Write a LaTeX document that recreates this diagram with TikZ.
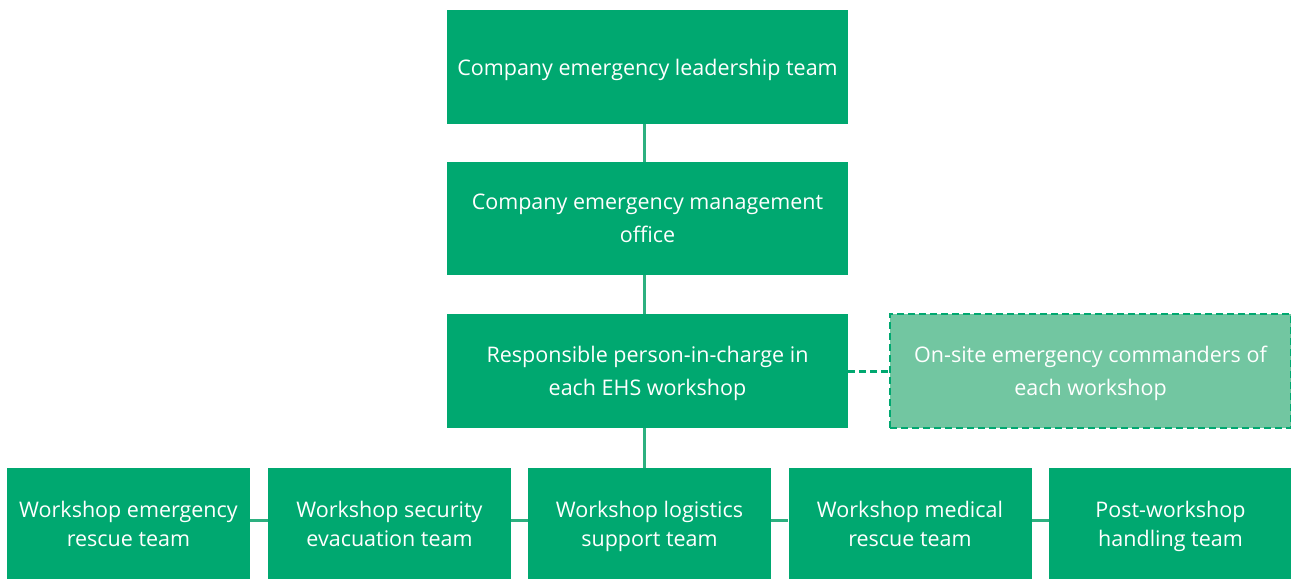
\documentclass[tikz,border=0pt]{standalone}
\usepackage{fontspec}
\setmainfont{Open Sans}
\definecolor{teamgreen}{RGB}{0,168,112}
\definecolor{linegreen}{RGB}{45,176,128}
\definecolor{palegreen}{RGB}{114,198,161}
\begin{document}
\begin{tikzpicture}[x=1pt,y=-1pt,
        unitbox/.style={fill=teamgreen, text=white, inner sep=0pt, align=center,
            font=\fontsize{21.5}{33}\selectfont, text depth=-0.5pt},
        topbox/.style={unitbox, minimum width=401pt, minimum height=114pt},
        teambox/.style={unitbox, minimum width=243pt, minimum height=111pt,
            font=\fontsize{21.5}{29}\selectfont, text depth=-5pt},
        sidebox/.style={topbox, fill=palegreen, draw=teamgreen, line width=2.2pt,
            dash pattern={on 7pt off 4pt}},
        link/.style={draw=linegreen, line width=2.5pt},
        dashlink/.style={link, draw=teamgreen, line width=3pt, dash pattern={on 7pt off 4pt}}]
        \useasboundingbox (0,0) rectangle (1291,579);

        %Top chain
        \node[topbox] (lead) at (647.5,67) {Company emergency leadership team};
        \node[topbox, minimum height=113pt] (office) at (647.5,218.5) {Company emergency management\\office};
        \node[topbox] (charge) at (647.5,371) {Responsible person-in-charge in\\each EHS workshop};
        %Side box
        \node[sidebox] (cmdr) at (1090.5,371) {On-site emergency commanders of\\each workshop};

        %Teams row
        \node[teambox] (rescue) at (128.5,523.5) {Workshop emergency\\rescue team};
        \node[teambox] (security) at (389.5,523.5) {Workshop security\\evacuation team};
        \node[teambox] (logistics) at (649.5,523.5) {Workshop logistics\\support team};
        \node[teambox] (medical) at (910,523.5) {Workshop medical\\rescue team};
        \node[teambox] (post) at (1170.5,523.5) {Post-workshop\\handling team};

        %Connectors
        \draw[link] ([xshift=-3pt]lead.south) -- ([xshift=-3pt]office.north);
        \draw[link] ([xshift=-3pt]office.south) -- ([xshift=-3pt]charge.north);
        \draw[link] ([xshift=-3pt]charge.south) -- ([xshift=-3pt]charge.south |- logistics.north);
        \draw[dashlink] (charge.east) -- (cmdr.west);
        \draw[link] ([yshift=3pt]rescue.east) -- ([yshift=3pt]security.west);
        \draw[link] ([yshift=3pt]security.east) -- ([yshift=3pt]logistics.west);
        \draw[link] ([yshift=3pt]logistics.east) -- ([yshift=3pt]medical.west);
        \draw[link] ([yshift=3pt]medical.east) -- ([yshift=3pt]post.west);
\end{tikzpicture}
\end{document}
